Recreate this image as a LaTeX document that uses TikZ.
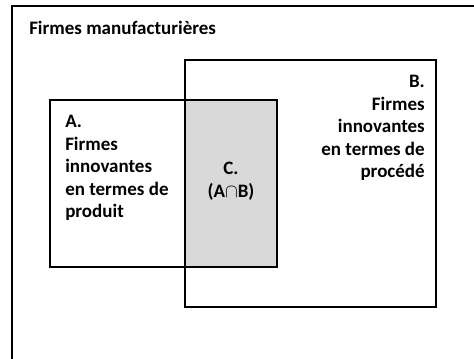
\documentclass[tikz,border=0pt]{standalone}
\usepackage{fontspec}
\setmainfont{Carlito}
\usetikzlibrary{fit,positioning,calc}

\begin{document}
\begin{tikzpicture}[x=0.75pt, y=-0.75pt,
		setbox/.style={draw, line width=1.5pt, inner sep=0pt},
		settext/.style={font=\bfseries\fontsize{14.25}{16.9}\selectfont, inner sep=0pt}]
		\useasboundingbox (0,0) rectangle (474,358);
		\clip (0,0) rectangle (474,358);
		\fill[white] (0,0) rectangle (474,358);
		% frame of all firms, cut by the page
		\draw[line width=1.5pt] (12,6) rectangle (490,380);
		\node[settext, anchor=base west] (title) at (29,34) {Firmes manufacturières};
		\coordinate (a1) at (50,100);
		\coordinate (a2) at (277,267);
		\coordinate (b1) at (185,60);
		\coordinate (b2) at (436,307);
		\fill[gray!30] (b1 |- a1) rectangle (a2);
		\node[setbox, fit={(a1) (a2)}] (A) {};
		\node[setbox, fit={(b1) (b2)}] (B) {};
		\node[settext, align=left, anchor=north west] (textA) at ($(A.north west) + (16,16)$)
			{A.\\Firmes\\innovantes\\en termes de\\produit};
		\node[settext, align=right, anchor=north east] (textB) at ($(B.north east) + (-12,16)$)
			{B.\\Firmes\\innovantes\\en termes de\\procédé};
		\node[settext, align=center, anchor=north] (textC) at (231,162)
			{C.\\(A$\cap$B)};
	\end{tikzpicture}
\end{document}
